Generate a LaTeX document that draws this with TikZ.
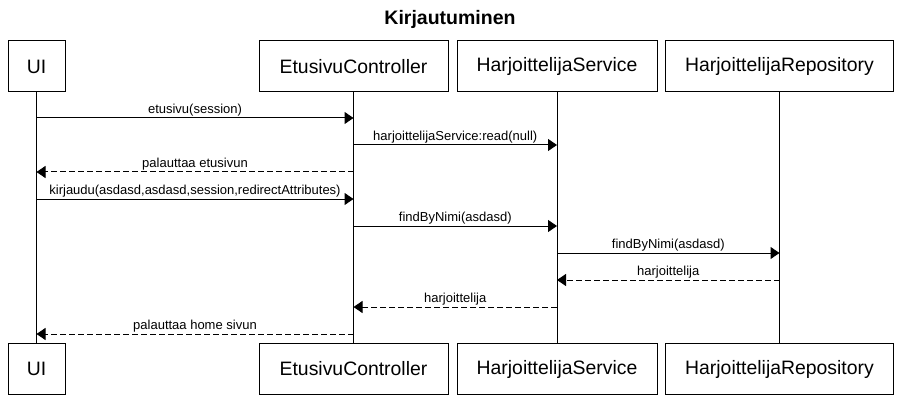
\documentclass[tikz,border=0pt]{standalone}
\usepackage{fontspec}
\setmainfont{Liberation Sans}
\usetikzlibrary{arrows.meta}
\tikzset{
  actor/.style={draw, line width=1pt, minimum height=51pt, inner sep=0pt, font=\fontsize{19.4}{22}\selectfont},
  lifeline/.style={line width=1pt},
  msg/.style={line width=1pt, -{Triangle[length=9pt,width=12pt]}},
  reply/.style={msg, dash pattern=on 6pt off 3pt},
  lbl/.style={above, inner sep=1.5pt, font=\fontsize{13}{15}\selectfont},
}
\begin{document}
\begin{tikzpicture}[x=1pt,y=-1pt]
\useasboundingbox (0,0) rectangle (900,401);
\node[font=\bfseries\fontsize{19.5}{22}\selectfont] (title) at (450,19) {Kirjautuminen};

\foreach \n/\x/\w/\t in {ui/36.5/57/UI, ec/353.5/189/EtusivuController, hs/557/200/HarjoittelijaService, hr/779.5/228/HarjoittelijaRepository}{
\node[actor, minimum width=\w pt] (\n-top) at (\x,66.5) {\t};
\node[actor, minimum width=\w pt] (\n-bot) at (\x,369) {\t};
\draw[lifeline] (\n-top) -- (\n-bot);
\foreach \i/\y in {1/118,2/145,3/172,4/199,5/226,6/253,7/280,8/307,9/334}
\coordinate (\n\i) at (\x,\y);
}

\draw[msg] (ui1) -- node[lbl] {etusivu(session)} (ec1);
\draw[msg] (ec2) -- node[lbl] {harjoittelijaService:read(null)} (hs2);
\draw[reply] (ec3) -- node[lbl] {palauttaa etusivun} (ui3);
\draw[msg] (ui4) -- node[lbl] {kirjaudu(asdasd,asdasd,session,redirectAttributes)} (ec4);
\draw[msg] (ec5) -- node[lbl] {findByNimi(asdasd)} (hs5);
\draw[msg] (hs6) -- node[lbl] {findByNimi(asdasd)} (hr6);
\draw[reply] (hr7) -- node[lbl] {harjoittelija} (hs7);
\draw[reply] (hs8) -- node[lbl] {harjoittelija} (ec8);
\draw[reply] (ec9) -- node[lbl] {palauttaa home sivun} (ui9);
\end{tikzpicture}
\end{document}
